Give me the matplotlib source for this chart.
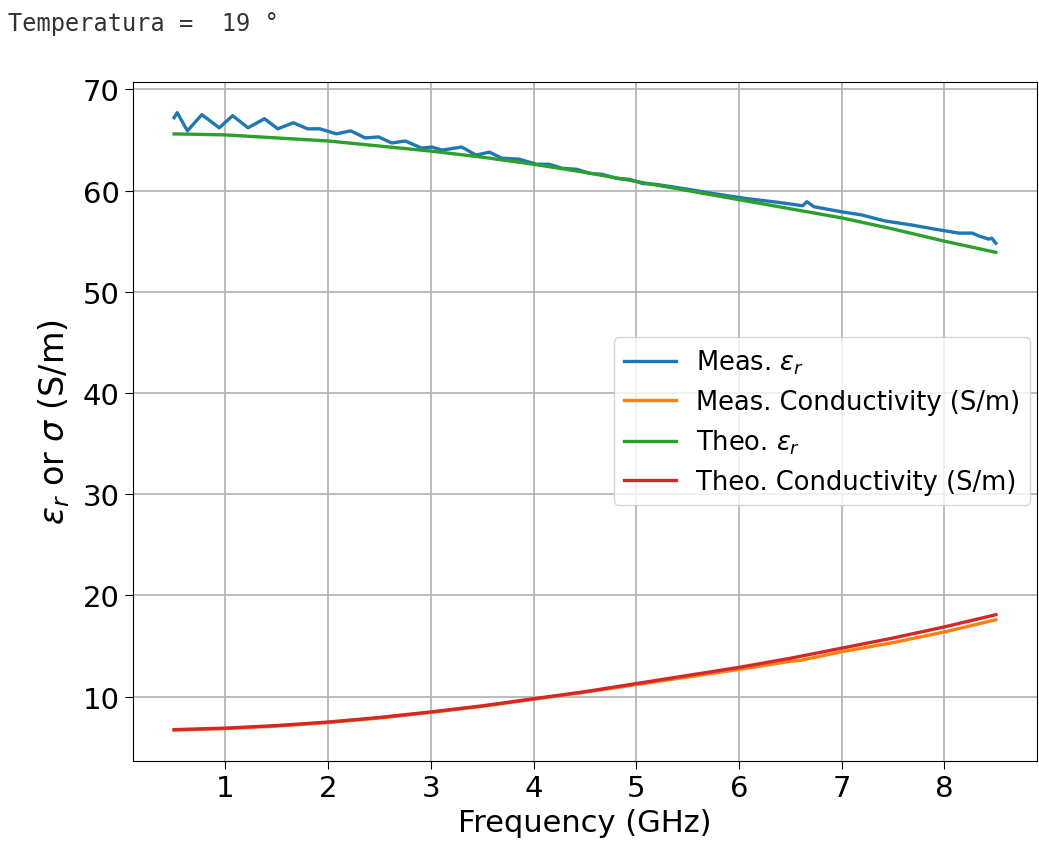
import matplotlib
matplotlib.use("Agg")
import matplotlib.pyplot as plt

meas_eps_f = [0.5, 0.53, 0.63, 0.77, 0.94, 1.07, 1.22, 1.38, 1.51, 1.66,
              1.80, 1.92, 2.08, 2.22, 2.36, 2.49, 2.62, 2.75, 2.91, 3.01,
              3.11, 3.30, 3.44, 3.57, 3.69, 3.86, 4.03, 4.15, 4.28, 4.42,
              4.55, 4.67, 4.81, 4.94, 5.06, 5.20, 5.33, 5.52, 5.75, 6.08,
              6.41, 6.62, 6.66, 6.73, 7.0, 7.19, 7.42, 7.68, 7.90, 8.14,
              8.27, 8.34, 8.43, 8.46, 8.5]
meas_eps = [67.2, 67.7, 65.9, 67.5, 66.2, 67.4, 66.2, 67.1, 66.1, 66.7,
            66.1, 66.1, 65.6, 65.9, 65.2, 65.3, 64.7, 64.9, 64.2, 64.3,
            64.0, 64.3, 63.5, 63.8, 63.2, 63.1, 62.6, 62.6, 62.2, 62.1,
            61.7, 61.6, 61.2, 61.1, 60.7, 60.6, 60.4, 60.1, 59.7, 59.2,
            58.8, 58.5, 58.9, 58.4, 57.9, 57.6, 57.0, 56.6, 56.2, 55.8,
            55.8, 55.5, 55.2, 55.3, 54.8]

# measured conductivity
meas_sig_f = [0.5, 1.0, 1.5, 2.0, 2.5, 3.0, 3.5, 4.0, 4.5, 5.0, 5.5, 6.0,
              6.5, 6.6, 7.0, 7.5, 8.0, 8.5]
meas_sig = [6.7, 6.85, 7.1, 7.45, 7.9, 8.45, 9.05, 9.75, 10.45, 11.2, 11.95,
            12.7, 13.5, 13.6, 14.45, 15.35, 16.4, 17.6]

# theoretical curves
theo_f = [0.5, 1.0, 1.5, 2.0, 2.5, 3.0, 3.5, 4.0, 4.5, 5.0, 5.5, 6.0, 6.5,
          7.0, 7.5, 8.0, 8.5]
theo_eps = [65.6, 65.5, 65.2, 64.9, 64.4, 63.9, 63.3, 62.6, 61.8, 60.9,
            60.0, 59.1, 58.2, 57.3, 56.2, 55.0, 53.9]
theo_sig = [6.75, 6.9, 7.15, 7.5, 7.95, 8.5, 9.1, 9.8, 10.5, 11.3, 12.1,
            12.9, 13.8, 14.8, 15.8, 16.9, 18.1]

temperature = 19

fig = plt.figure(figsize=(10.39, 8.62), dpi=100)
ax = fig.add_axes([0.128, 0.116, 0.870, 0.788])

ax.plot(meas_eps_f, meas_eps, color="tab:blue", lw=2.4, label=r"Meas. $\varepsilon_r$")
ax.plot(meas_sig_f, meas_sig, color="tab:orange", lw=2.4, label="Meas. Conductivity (S/m)")
ax.plot(theo_f, theo_eps, color="tab:green", lw=2.4, label=r"Theo. $\varepsilon_r$")
ax.plot(theo_f, theo_sig, color="tab:red", lw=2.4, label="Theo. Conductivity (S/m)")

ax.grid(True, lw=1.2)
ax.tick_params(labelsize=21, length=6)
ax.set_xlabel("Frequency (GHz)", fontsize=22, labelpad=4)
ax.set_ylabel(r"$\varepsilon_r$ or $\sigma$ (S/m)", fontsize=24, labelpad=8)
ax.legend(loc="center right", fontsize=18.5, borderaxespad=0.25)

fig.text(0.008, 0.972, f"Temperatura =  {temperature} °", family="DejaVu Sans Mono",
         fontsize=17, color="#333333", va="center", ha="left")

fig.savefig("out.png", dpi=100)
